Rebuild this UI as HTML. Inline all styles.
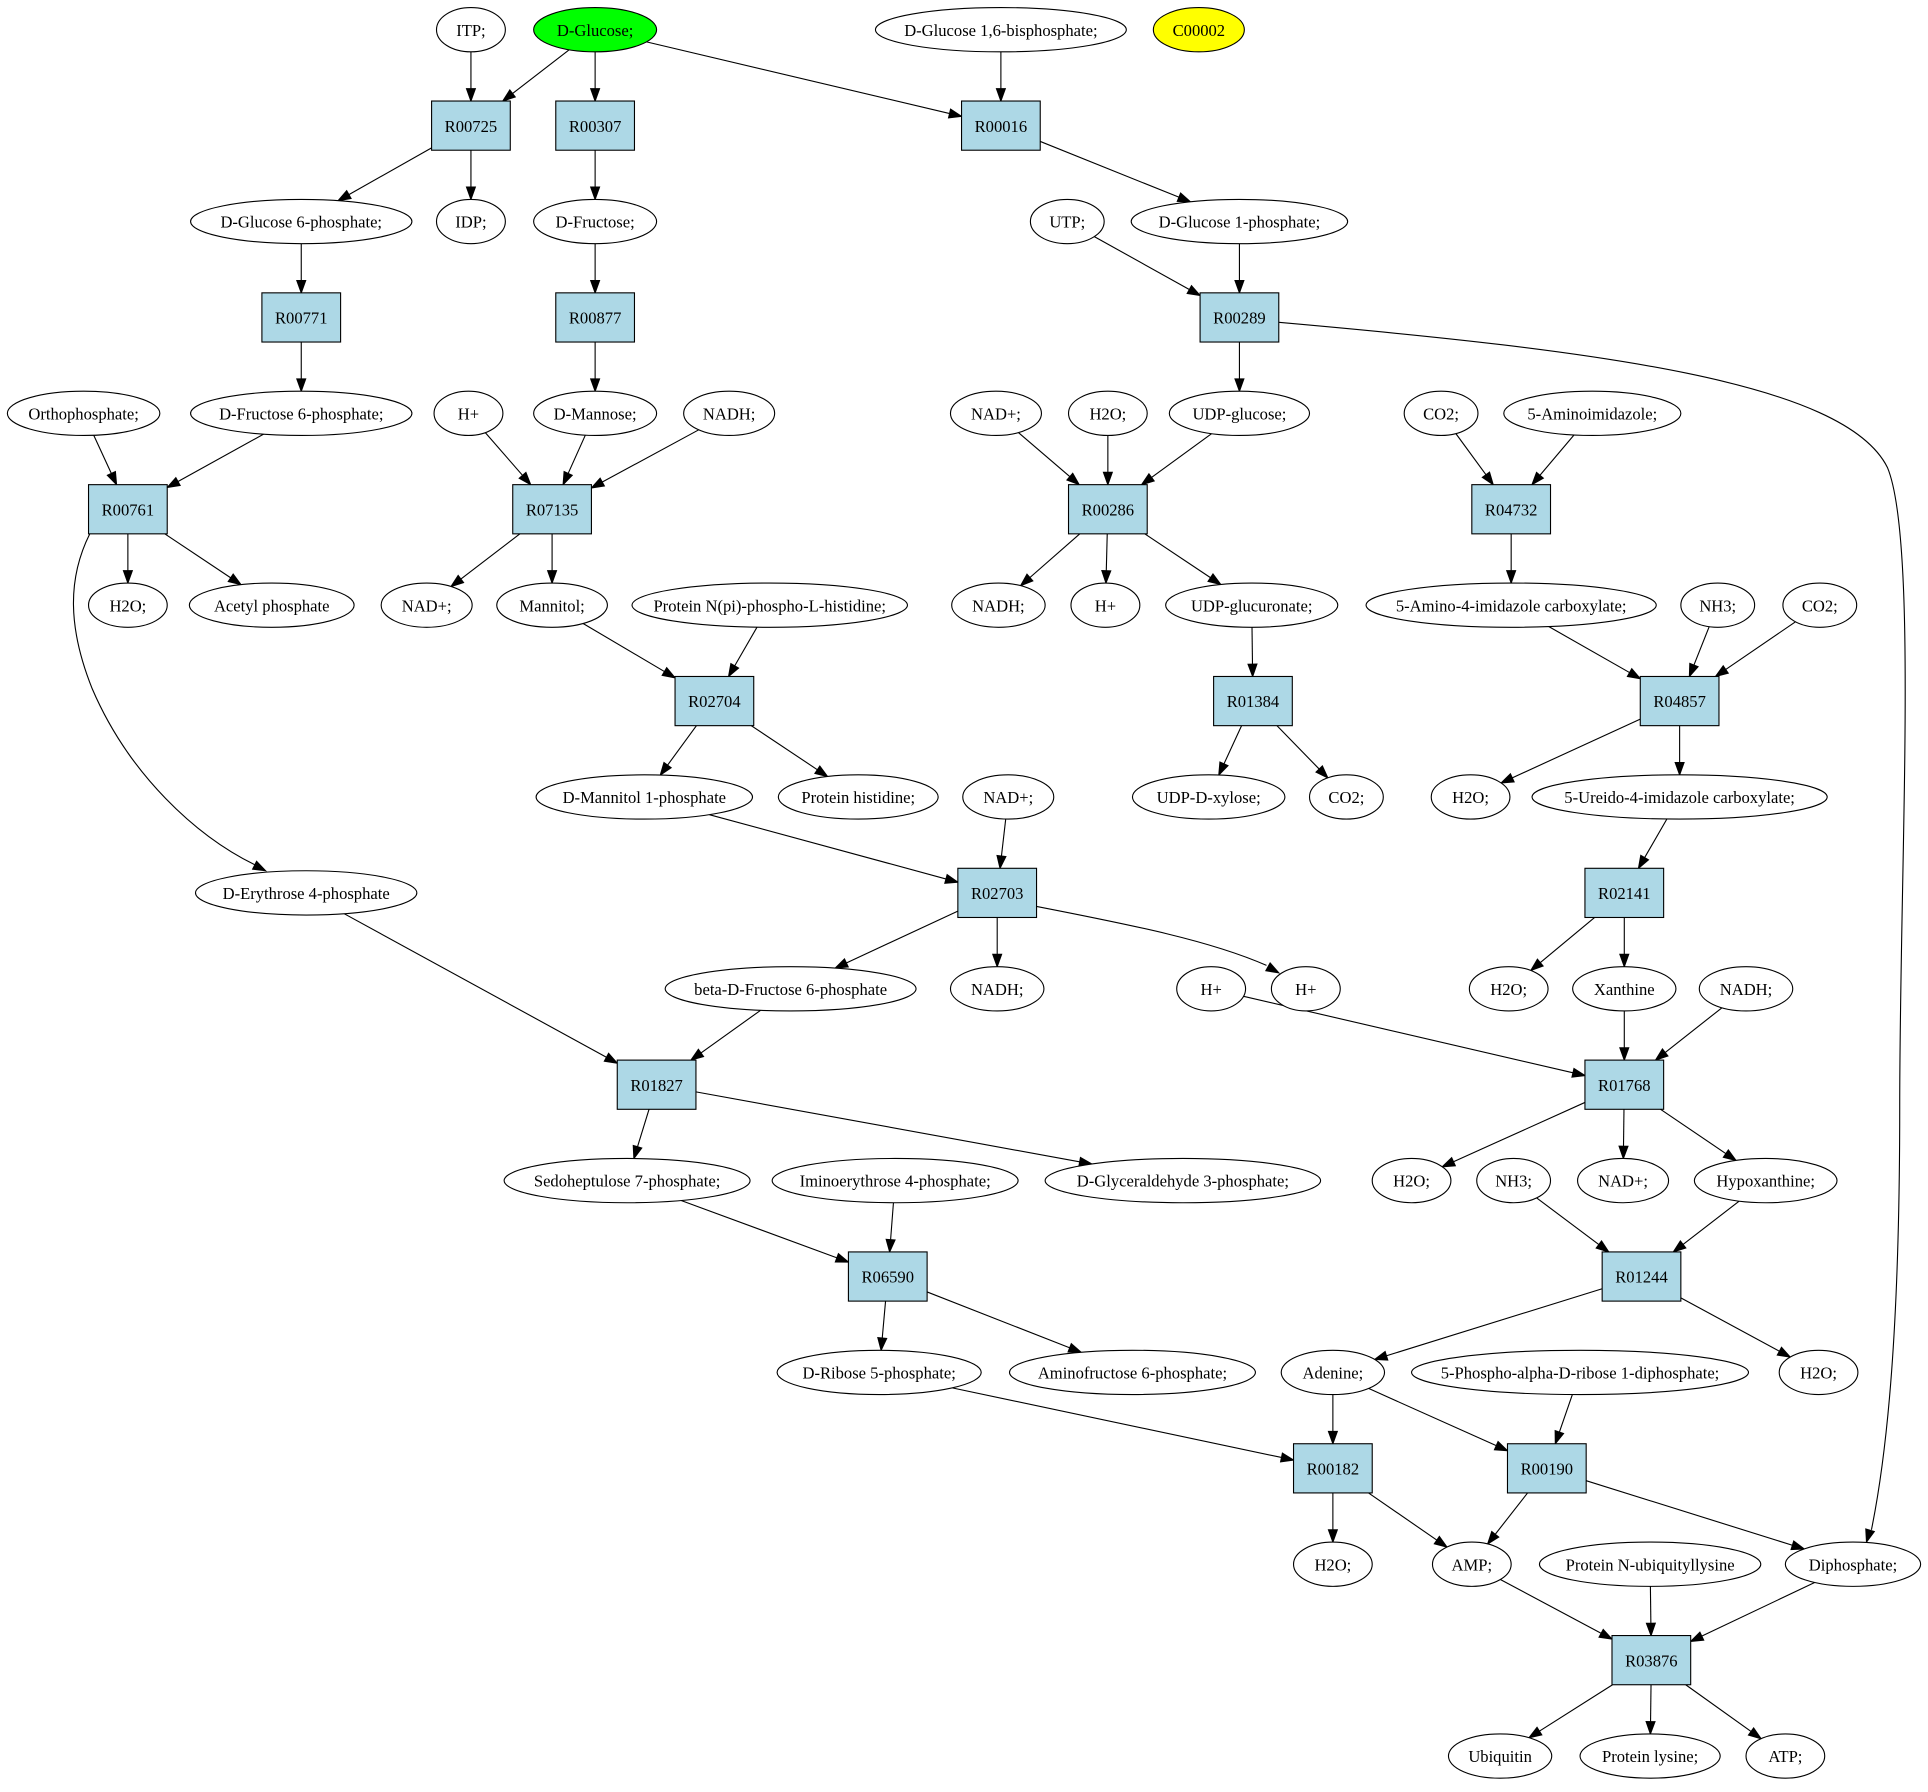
<!DOCTYPE html>
<html><head><meta charset="utf-8"><style>
html,body{margin:0;padding:0;background:#fff;}
svg text{font-family:"Liberation Serif",serif;font-size:13.5px;text-anchor:middle;fill:#000;}
</style></head><body>
<svg id="g" width="1928" height="1787" viewBox="0 0 1568 1453" xmlns="http://www.w3.org/2000/svg">
<g id="edges" stroke="#000" stroke-width="0.9" fill="none"></g>
<g id="nodes" stroke="#000" stroke-width="0.9" fill="#fff">
<ellipse id="itp" cx="383" cy="24" rx="28" ry="18"/>
<ellipse id="glc" cx="484" cy="24" rx="50" ry="18" fill="#00ff00"/>
<ellipse id="g16" cx="814" cy="24" rx="102" ry="18"/>
<ellipse id="c2" cx="975" cy="24" rx="37" ry="18" fill="#ffff00"/>
<rect id="r725" x="351" y="82" width="64" height="40" fill="#add8e6"/>
<rect id="r307" x="452" y="82" width="64" height="40" fill="#add8e6"/>
<rect id="r016" x="782" y="82" width="64" height="40" fill="#add8e6"/>
<ellipse id="g6p" cx="245" cy="180" rx="90" ry="18"/>
<ellipse id="idp" cx="383" cy="180" rx="28" ry="18"/>
<ellipse id="fru" cx="484" cy="180" rx="50" ry="18"/>
<ellipse id="utp" cx="868" cy="180" rx="30" ry="18"/>
<ellipse id="g1p" cx="1008" cy="180" rx="88" ry="18"/>
<rect id="r771" x="213" y="238" width="64" height="40" fill="#add8e6"/>
<rect id="r877" x="452" y="238" width="64" height="40" fill="#add8e6"/>
<rect id="r289" x="976" y="238" width="64" height="40" fill="#add8e6"/>
<ellipse id="orth" cx="68" cy="336" rx="62" ry="18"/>
<ellipse id="f6p" cx="245" cy="336" rx="90" ry="18"/>
<ellipse id="hp1" cx="381" cy="336" rx="28" ry="18"/>
<ellipse id="man" cx="484" cy="336" rx="50" ry="18"/>
<ellipse id="nadh1" cx="593" cy="336" rx="37" ry="18"/>
<ellipse id="nad1" cx="810" cy="336" rx="37" ry="18"/>
<ellipse id="h2o1" cx="901" cy="336" rx="32" ry="18"/>
<ellipse id="udpg" cx="1008" cy="336" rx="57" ry="18"/>
<ellipse id="co21" cx="1172" cy="336" rx="30" ry="18"/>
<ellipse id="ai" cx="1295" cy="336" rx="72" ry="18"/>
<rect id="r761" x="72" y="394" width="64" height="40" fill="#add8e6"/>
<rect id="r7135" x="417" y="394" width="64" height="40" fill="#add8e6"/>
<rect id="r286" x="869" y="394" width="64" height="40" fill="#add8e6"/>
<rect id="r4732" x="1197" y="394" width="64" height="40" fill="#add8e6"/>
<ellipse id="h2o2" cx="104" cy="492" rx="32" ry="18"/>
<ellipse id="acp" cx="221" cy="492" rx="67" ry="18"/>
<ellipse id="nad2" cx="347" cy="492" rx="37" ry="18"/>
<ellipse id="mtl" cx="449" cy="492" rx="45" ry="18"/>
<ellipse id="pnpi" cx="626" cy="492" rx="112" ry="18"/>
<ellipse id="nadh2" cx="812" cy="492" rx="38" ry="18"/>
<ellipse id="hp2" cx="899" cy="492" rx="28" ry="18"/>
<ellipse id="udpga" cx="1018" cy="492" rx="70" ry="18"/>
<ellipse id="aic" cx="1229" cy="492" rx="118" ry="18"/>
<ellipse id="nh31" cx="1397" cy="492" rx="30" ry="18"/>
<ellipse id="co22" cx="1480" cy="492" rx="30" ry="18"/>
<rect id="r2704" x="549" y="550" width="64" height="40" fill="#add8e6"/>
<rect id="r1384" x="987" y="550" width="64" height="40" fill="#add8e6"/>
<rect id="r4857" x="1334" y="550" width="64" height="40" fill="#add8e6"/>
<ellipse id="m1p" cx="524" cy="648" rx="88" ry="18"/>
<ellipse id="phis" cx="698" cy="648" rx="65" ry="18"/>
<ellipse id="nad3" cx="820" cy="648" rx="37" ry="18"/>
<ellipse id="udpx" cx="983" cy="648" rx="62" ry="18"/>
<ellipse id="co23" cx="1095" cy="648" rx="30" ry="18"/>
<ellipse id="h2o3" cx="1196" cy="648" rx="32" ry="18"/>
<ellipse id="uic" cx="1366" cy="648" rx="120" ry="18"/>
<ellipse id="e4p" cx="249" cy="726" rx="90" ry="18"/>
<rect id="r2703" x="779" y="706" width="64" height="40" fill="#add8e6"/>
<rect id="r2141" x="1289" y="706" width="64" height="40" fill="#add8e6"/>
<ellipse id="bf6p" cx="643" cy="804" rx="102" ry="18"/>
<ellipse id="nadh3" cx="811" cy="804" rx="38" ry="18"/>
<ellipse id="hp3" cx="985" cy="804" rx="28" ry="18"/>
<ellipse id="hp4" cx="1062" cy="804" rx="28" ry="18"/>
<ellipse id="h2o4" cx="1227" cy="804" rx="32" ry="18"/>
<ellipse id="xan" cx="1321" cy="804" rx="42" ry="18"/>
<ellipse id="nadh4" cx="1420" cy="804" rx="38" ry="18"/>
<rect id="r1827" x="502" y="862" width="64" height="40" fill="#add8e6"/>
<rect id="r1768" x="1289" y="862" width="64" height="40" fill="#add8e6"/>
<ellipse id="s7p" cx="510" cy="960" rx="100" ry="18"/>
<ellipse id="imino" cx="728" cy="960" rx="100" ry="18"/>
<ellipse id="gap" cx="962" cy="960" rx="112" ry="18"/>
<ellipse id="h2o5" cx="1148" cy="960" rx="32" ry="18"/>
<ellipse id="nh32" cx="1231" cy="960" rx="30" ry="18"/>
<ellipse id="nad4" cx="1320" cy="960" rx="37" ry="18"/>
<ellipse id="hyp" cx="1436" cy="960" rx="58" ry="18"/>
<rect id="r6590" x="690" y="1018" width="64" height="40" fill="#add8e6"/>
<rect id="r1244" x="1303" y="1018" width="64" height="40" fill="#add8e6"/>
<ellipse id="r5p" cx="715" cy="1116" rx="83" ry="18"/>
<ellipse id="amf" cx="921" cy="1116" rx="100" ry="18"/>
<ellipse id="ade" cx="1084" cy="1116" rx="42" ry="18"/>
<ellipse id="prpp" cx="1285" cy="1116" rx="137" ry="18"/>
<ellipse id="h2o6" cx="1479" cy="1116" rx="32" ry="18"/>
<rect id="r182" x="1052" y="1174" width="64" height="40" fill="#add8e6"/>
<rect id="r190" x="1226" y="1174" width="64" height="40" fill="#add8e6"/>
<ellipse id="h2o7" cx="1084" cy="1272" rx="32" ry="18"/>
<ellipse id="amp" cx="1197" cy="1272" rx="32" ry="18"/>
<ellipse id="pnub" cx="1342" cy="1272" rx="90" ry="18"/>
<ellipse id="ppi" cx="1507" cy="1272" rx="55" ry="18"/>
<rect id="r3876" x="1311" y="1330" width="64" height="40" fill="#add8e6"/>
<ellipse id="ubq" cx="1220" cy="1428" rx="42" ry="18"/>
<ellipse id="plys" cx="1342" cy="1428" rx="57" ry="18"/>
<ellipse id="atp" cx="1452" cy="1428" rx="32" ry="18"/>
</g>
<g id="labels">
<text x="383" y="29">ITP;</text>
<text x="484" y="29">D-Glucose;</text>
<text x="814" y="29">D-Glucose 1,6-bisphosphate;</text>
<text x="975" y="29">C00002</text>
<text x="383" y="107">R00725</text>
<text x="484" y="107">R00307</text>
<text x="814" y="107">R00016</text>
<text x="245" y="185">D-Glucose 6-phosphate;</text>
<text x="383" y="185">IDP;</text>
<text x="484" y="185">D-Fructose;</text>
<text x="868" y="185">UTP;</text>
<text x="1008" y="185">D-Glucose 1-phosphate;</text>
<text x="245" y="263">R00771</text>
<text x="484" y="263">R00877</text>
<text x="1008" y="263">R00289</text>
<text x="68" y="341">Orthophosphate;</text>
<text x="245" y="341">D-Fructose 6-phosphate;</text>
<text x="381" y="341">H+</text>
<text x="484" y="341">D-Mannose;</text>
<text x="593" y="341">NADH;</text>
<text x="810" y="341">NAD+;</text>
<text x="901" y="341">H2O;</text>
<text x="1008" y="341">UDP-glucose;</text>
<text x="1172" y="341">CO2;</text>
<text x="1295" y="341">5-Aminoimidazole;</text>
<text x="104" y="419">R00761</text>
<text x="449" y="419">R07135</text>
<text x="901" y="419">R00286</text>
<text x="1229" y="419">R04732</text>
<text x="104" y="497">H2O;</text>
<text x="221" y="497">Acetyl phosphate</text>
<text x="347" y="497">NAD+;</text>
<text x="449" y="497">Mannitol;</text>
<text x="626" y="497">Protein N(pi)-phospho-L-histidine;</text>
<text x="812" y="497">NADH;</text>
<text x="899" y="497">H+</text>
<text x="1018" y="497">UDP-glucuronate;</text>
<text x="1229" y="497">5-Amino-4-imidazole carboxylate;</text>
<text x="1397" y="497">NH3;</text>
<text x="1480" y="497">CO2;</text>
<text x="581" y="575">R02704</text>
<text x="1019" y="575">R01384</text>
<text x="1366" y="575">R04857</text>
<text x="524" y="653">D-Mannitol 1-phosphate</text>
<text x="698" y="653">Protein histidine;</text>
<text x="820" y="653">NAD+;</text>
<text x="983" y="653">UDP-D-xylose;</text>
<text x="1095" y="653">CO2;</text>
<text x="1196" y="653">H2O;</text>
<text x="1366" y="653">5-Ureido-4-imidazole carboxylate;</text>
<text x="249" y="731">D-Erythrose 4-phosphate</text>
<text x="811" y="731">R02703</text>
<text x="1321" y="731">R02141</text>
<text x="643" y="809">beta-D-Fructose 6-phosphate</text>
<text x="811" y="809">NADH;</text>
<text x="985" y="809">H+</text>
<text x="1062" y="809">H+</text>
<text x="1227" y="809">H2O;</text>
<text x="1321" y="809">Xanthine</text>
<text x="1420" y="809">NADH;</text>
<text x="534" y="887">R01827</text>
<text x="1321" y="887">R01768</text>
<text x="510" y="965">Sedoheptulose 7-phosphate;</text>
<text x="728" y="965">Iminoerythrose 4-phosphate;</text>
<text x="962" y="965">D-Glyceraldehyde 3-phosphate;</text>
<text x="1148" y="965">H2O;</text>
<text x="1231" y="965">NH3;</text>
<text x="1320" y="965">NAD+;</text>
<text x="1436" y="965">Hypoxanthine;</text>
<text x="722" y="1043">R06590</text>
<text x="1335" y="1043">R01244</text>
<text x="715" y="1121">D-Ribose 5-phosphate;</text>
<text x="921" y="1121">Aminofructose 6-phosphate;</text>
<text x="1084" y="1121">Adenine;</text>
<text x="1285" y="1121">5-Phospho-alpha-D-ribose 1-diphosphate;</text>
<text x="1479" y="1121">H2O;</text>
<text x="1084" y="1199">R00182</text>
<text x="1258" y="1199">R00190</text>
<text x="1084" y="1277">H2O;</text>
<text x="1197" y="1277">AMP;</text>
<text x="1342" y="1277">Protein N-ubiquityllysine</text>
<text x="1507" y="1277">Diphosphate;</text>
<text x="1343" y="1355">R03876</text>
<text x="1220" y="1433">Ubiquitin</text>
<text x="1342" y="1433">Protein lysine;</text>
<text x="1452" y="1433">ATP;</text>
</g>
</svg>
<script>
(function(){
var NS="http://www.w3.org/2000/svg";
var E=document.getElementById("edges");
function geo(id){
  var el=document.getElementById(id);
  if(el.tagName==="rect"){
    var x=+el.getAttribute("x"),y=+el.getAttribute("y"),w=+el.getAttribute("width"),h=+el.getAttribute("height");
    return {t:"r",cx:x+w/2,cy:y+h/2,hw:w/2,hh:h/2};
  }
  return {t:"e",cx:+el.getAttribute("cx"),cy:+el.getAttribute("cy"),rx:+el.getAttribute("rx"),ry:+el.getAttribute("ry")};
}
function clip(g,dx,dy){
  var t;
  if(g.t==="r"){t=Math.min(dx?g.hw/Math.abs(dx):1e9,dy?g.hh/Math.abs(dy):1e9);}
  else{t=1/Math.sqrt((dx/g.rx)*(dx/g.rx)+(dy/g.ry)*(dy/g.ry));}
  return [g.cx+dx*t,g.cy+dy*t];
}
function arrow(px,py,ux,uy){
  var L=10,W=3.6;
  var bx=px-ux*L,by=py-uy*L;
  var p=document.createElementNS(NS,"polygon");
  p.setAttribute("points",px+","+py+" "+(bx-uy*W)+","+(by+ux*W)+" "+(bx+uy*W)+","+(by-ux*W));
  p.setAttribute("fill","#000");
  E.appendChild(p);
}
function edge(a,b){
  var A=geo(a),B=geo(b);
  var dx=B.cx-A.cx,dy=B.cy-A.cy;
  var s=clip(A,dx,dy),e=clip(B,-dx,-dy);
  var len=Math.hypot(e[0]-s[0],e[1]-s[1]);var ux=(e[0]-s[0])/len,uy=(e[1]-s[1])/len;
  var l=document.createElementNS(NS,"line");
  l.setAttribute("x1",s[0]);l.setAttribute("y1",s[1]);
  l.setAttribute("x2",e[0]-ux*9);l.setAttribute("y2",e[1]-uy*9);
  E.appendChild(l);
  arrow(e[0],e[1],ux,uy);
}
function curve(d,px,py,ux,uy){
  var p=document.createElementNS(NS,"path");p.setAttribute("d",d);E.appendChild(p);
  var n=Math.hypot(ux,uy);arrow(px,py,ux/n,uy/n);
}
var L=[["itp","r725"],["glc","r725"],["glc","r307"],["glc","r016"],["g16","r016"],
["r725","g6p"],["r725","idp"],["r307","fru"],["r016","g1p"],
["g6p","r771"],["fru","r877"],["utp","r289"],["g1p","r289"],
["r771","f6p"],["r877","man"],["r289","udpg"],
["orth","r761"],["f6p","r761"],["hp1","r7135"],["man","r7135"],["nadh1","r7135"],["nad1","r286"],["h2o1","r286"],["udpg","r286"],["co21","r4732"],["ai","r4732"],
["r761","h2o2"],["r761","acp"],["r7135","nad2"],["r7135","mtl"],["r286","nadh2"],["r286","hp2"],["r286","udpga"],["r4732","aic"],
["mtl","r2704"],["pnpi","r2704"],["udpga","r1384"],["aic","r4857"],["nh31","r4857"],["co22","r4857"],
["r2704","m1p"],["r2704","phis"],["r1384","udpx"],["r1384","co23"],["r4857","h2o3"],["r4857","uic"],
["m1p","r2703"],["nad3","r2703"],["uic","r2141"],
["r2703","bf6p"],["r2703","nadh3"],["r2141","h2o4"],["r2141","xan"],
["e4p","r1827"],["bf6p","r1827"],["hp3","r1768"],["xan","r1768"],["nadh4","r1768"],
["r1827","s7p"],["r1827","gap"],["r1768","h2o5"],["r1768","nad4"],["r1768","hyp"],
["s7p","r6590"],["imino","r6590"],["nh32","r1244"],["hyp","r1244"],
["r6590","r5p"],["r6590","amf"],["r1244","ade"],["r1244","h2o6"],
["r5p","r182"],["ade","r182"],["ade","r190"],["prpp","r190"],
["r182","h2o7"],["r182","amp"],["r190","amp"],["r190","ppi"],
["amp","r3876"],["pnub","r3876"],["ppi","r3876"],
["r3876","ubq"],["r3876","plys"],["r3876","atp"]];
L.forEach(function(p){edge(p[0],p[1]);});
curve("M843,737 C920,752 985,765 1030,785",1040,791,1,0.55);
curve("M1040,262 C1300,285 1500,310 1535,380 C1560,440 1545,700 1545,900 C1545,1080 1535,1180 1522,1244",1518,1254,-0.3,1);
curve("M73,434 C55,470 55,510 75,560 C105,630 160,680 207,703",216,708,1,0.5);
})();
</script>
</body></html>
